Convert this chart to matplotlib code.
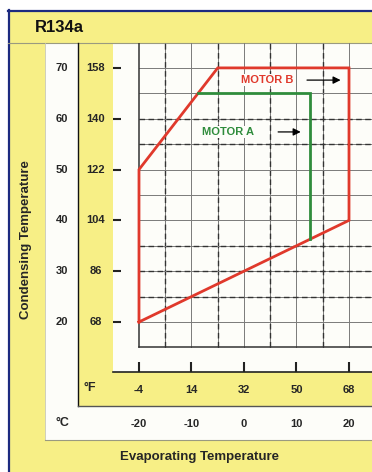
import matplotlib.pyplot as plt
from matplotlib.patches import Rectangle

plt.rcParams['font.family'] = ['Liberation Sans', 'DejaVu Sans']

# data (deg C)
cond_c = [20, 30, 40, 50, 60, 70]
cond_f = [68, 86, 104, 122, 140, 158]
evap_c = [-20, -10, 0, 10, 20]
evap_f = [-4, 14, 32, 50, 68]

motor_b_x = [-20, -20, -5, 20, 20, -20]
motor_b_y = [20, 50, 70, 70, 40, 20]
motor_a_x = [-8.7, 12.5, 12.5]
motor_a_y = [65, 65, 36.3]

yellow = '#f7ef86'
white = '#fdfdf9'
red = '#e0392c'
green = '#2f8c3c'
txt = '#262626'

fig = plt.figure(figsize=(3.72, 4.72), dpi=100)
fig.patch.set_facecolor('white')

# background layout in pixel coords
bg = fig.add_axes([0, 0, 1, 1])
bg.set_xlim(0, 372)
bg.set_ylim(472, 0)
bg.axis('off')
bg.add_patch(Rectangle((8, 10), 364, 462, fc=yellow, ec='none'))
bg.add_patch(Rectangle((45, 43), 33, 363, fc=white, ec='none'))
bg.add_patch(Rectangle((45, 406), 327, 34, fc=white, ec='none'))
bg.add_patch(Rectangle((113, 43), 259, 329, fc=white, ec='none'))
bg.plot([8.5, 8.5], [10, 472], color='#1c2a80', lw=1.6)
bg.plot([8, 372], [10.5, 10.5], color='#1c2a80', lw=1.6)
bg.plot([8, 372], [43, 43], color='#9a9a80', lw=0.8)
bg.plot([45, 45], [43, 440], color='#c8c8b0', lw=0.6)
bg.plot([78, 78], [43, 406], color='#111111', lw=1.0)
bg.plot([78, 372], [406, 406], color='#555555', lw=1.0)
bg.plot([45, 372], [440, 440], color='#9a9a80', lw=0.8)

bg.text(35, 28, 'R134a', fontsize=12, fontweight='bold', color='#111111',
        ha='left', va='center')
bg.text(26, 240, 'Condensing Temperature', fontsize=9.5, fontweight='bold',
        color=txt, rotation=90, ha='center', va='center')
bg.text(199, 457, 'Evaporating Temperature', fontsize=9.5, fontweight='bold',
        color=txt, ha='center', va='center')
bg.text(90, 388, '°F', fontsize=9, fontweight='bold', color=txt,
        ha='center', va='center')
bg.text(62, 423, '°C', fontsize=9, fontweight='bold', color=txt,
        ha='center', va='center')

# main chart area
ax = fig.add_axes([113 / 372, 100 / 472, 259 / 372, 329 / 472])
ax.set_xlim(-24.95, 24.38)
ax.set_ylim(10.16, 74.9)
ax.patch.set_alpha(0)
for s in ['top', 'right', 'left']:
    ax.spines[s].set_visible(False)
ax.spines['bottom'].set_color('#222222')
ax.spines['bottom'].set_linewidth(1.2)
ax.set_xticks(evap_c)
ax.set_yticks(cond_c)
ax.tick_params(axis='x', direction='in', length=7, width=1.5, color='#222222',
               labelbottom=False)
ax.tick_params(axis='y', direction='in', length=6, width=1.5, color='#222222',
               labelleft=False)

# grid
xmax, ymax = 24.38, 74.9
for x in range(-15, 26, 5):
    ax.plot([x, x], [15, ymax], color='#7a7a7a', lw=0.7, zorder=1)
    if x % 10 != 0:
        ax.plot([x, x], [15, ymax], color='#333333', lw=1.0,
                dashes=(4, 2.5), zorder=1)
for y in range(20, 76, 5):
    ax.plot([-20, xmax], [y, y], color='#7a7a7a', lw=0.7, zorder=1)
    if y in (25, 30, 35, 55, 60):
        ax.plot([-20, xmax], [y, y], color='#333333', lw=1.0,
                dashes=(4, 2.5), zorder=1)
ax.plot([-20, -20], [15, ymax], color='#333333', lw=1.1, zorder=1)
ax.plot([-20, xmax], [15, 15], color='#333333', lw=1.1, zorder=1)

# envelopes
ax.plot(motor_b_x, motor_b_y, color=red, lw=2.0, zorder=3,
        solid_joinstyle='miter')
ax.plot(motor_a_x, motor_a_y, color=green, lw=2.0, zorder=3,
        solid_joinstyle='miter')

ax.text(4.4, 67.6, 'MOTOR B', color=red, fontsize=8, fontweight='bold',
        ha='center', va='center', zorder=4,
        bbox=dict(fc=white, ec='none', pad=0.5))
ax.annotate('', xy=(18.4, 67.6), xytext=(12.0, 67.6), zorder=4,
            arrowprops=dict(arrowstyle='-|>', color='k', lw=0.9,
                            mutation_scale=11, shrinkA=0, shrinkB=0))
ax.text(-3.0, 57.4, 'MOTOR A', color=green, fontsize=8, fontweight='bold',
        ha='center', va='center', zorder=4,
        bbox=dict(fc=white, ec='none', pad=0.5))
ax.annotate('', xy=(10.8, 57.4), xytext=(6.5, 57.4), zorder=4,
            arrowprops=dict(arrowstyle='-|>', color='k', lw=0.9,
                            mutation_scale=11, shrinkA=0, shrinkB=0))

# tick labels outside the axes
ytr = ax.get_yaxis_transform()
for c, f in zip(cond_c, cond_f):
    ax.text(-0.197, c, str(c), transform=ytr, fontsize=8, fontweight='bold',
            color=txt, ha='center', va='center', clip_on=False)
    ax.text(-0.068, c, str(f), transform=ytr, fontsize=8,
            fontweight='bold', color=txt, ha='center', va='center',
            clip_on=False)
xtr = ax.get_xaxis_transform()
for c, f in zip(evap_c, evap_f):
    ax.text(c, -0.054, str(f), transform=xtr, fontsize=8, fontweight='bold',
            color=txt, ha='center', va='center', clip_on=False)
    ax.text(c, -0.158, str(c), transform=xtr, fontsize=8, fontweight='bold',
            color=txt, ha='center', va='center', clip_on=False)

fig.savefig('out.png', dpi=100)
